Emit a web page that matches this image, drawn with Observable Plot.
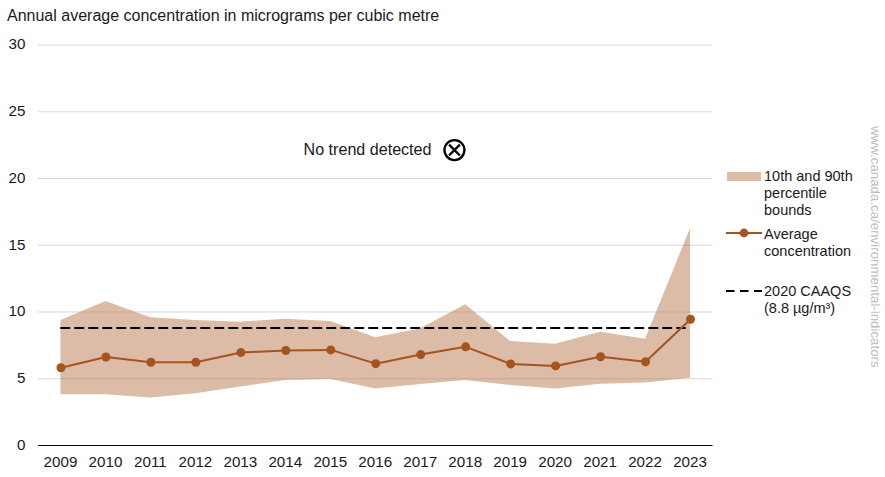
<!DOCTYPE html>
<html><head><meta charset="utf-8">
<script src="https://cdn.jsdelivr.net/npm/d3@7"></script>
<script src="https://cdn.jsdelivr.net/npm/@observablehq/plot@0.6"></script>
<style>
html,body{margin:0;padding:0;background:#fff;overflow:hidden}
body{width:885px;height:477px;position:relative;font-family:"Liberation Sans",Arial,sans-serif;color:#1a1a1a}
#title{position:absolute;left:7px;top:6px;font-size:16px;line-height:20px;white-space:nowrap}
#chart{position:absolute;left:0;top:34px}
#chart svg{display:block}
.lg{position:absolute;font-size:14.5px;line-height:17px;white-space:nowrap}
.sw{position:absolute}
#side{position:absolute;left:867px;top:126px;writing-mode:vertical-rl;font-size:13.3px;color:#bdbdbd;white-space:nowrap;line-height:16px}
</style></head><body>
<div id="title">Annual average concentration in micrograms per cubic metre</div>
<div id="chart"></div>
<svg class="sw" style="left:727px;top:172px" width="34" height="9"><rect width="34" height="9" fill="#b57345" fill-opacity="0.48"/></svg>
<div class="lg" style="left:764px;top:168px">10th and 90th<br>percentile<br>bounds</div>
<svg class="sw" style="left:726px;top:227px" width="36" height="12"><line x1="0" x2="36" y1="6" y2="6" stroke="#a5531f" stroke-width="1.8"/><circle cx="18" cy="6" r="4.4" fill="#a5531f"/></svg>
<div class="lg" style="left:764px;top:226px">Average<br>concentration</div>
<svg class="sw" style="left:726px;top:288px" width="36" height="6"><line x1="0" x2="36" y1="3" y2="3" stroke="#000" stroke-width="1.8" stroke-dasharray="8.5 5.5"/></svg>
<div class="lg" style="left:764px;top:283px">2020 CAAQS<br>(8.8 µg/m³)</div>
<div id="side">www.canada.ca/environmental-indicators</div>
<script>
const years = [2009,2010,2011,2012,2013,2014,2015,2016,2017,2018,2019,2020,2021,2022,2023];
const upper = [9.36,10.79,9.56,9.36,9.24,9.46,9.29,8.07,8.74,10.54,7.79,7.59,8.49,7.96,16.23];
const lower = [3.80,3.80,3.55,3.87,4.39,4.87,4.94,4.24,4.57,4.87,4.49,4.24,4.59,4.69,5.04];
const average = [5.82,6.63,6.24,6.24,6.96,7.12,7.16,6.13,6.81,7.39,6.11,5.96,6.65,6.27,9.46];
const caaqs = 8.8;
const caaqsYears = [2009,2022.88];
const yTicks = [0,5,10,15,20,25,30];
const note = "No trend detected";
const noteY = 22.13;
const noteTextX = 2017.24;
const noteIconX = 2017.75;

const rows = years.map((year,i)=>({year,upper:upper[i],lower:lower[i],average:average[i]}));
const brown = "#a5531f";

const chart = Plot.plot({
  width:885, height:443,
  marginLeft:38, marginRight:172.5, marginTop:10.5, marginBottom:32,
  style:{fontFamily:'"Liberation Sans",Arial,sans-serif',background:"transparent",overflow:"visible"},
  x:{domain:[2008.5,2023.5],label:null,ticks:years,tickFormat:d=>String(d),tickSize:0,tickPadding:10},
  y:{domain:[0,30],label:null,ticks:yTicks,tickSize:0,tickPadding:12},
  marks:[
    Plot.ruleY(yTicks.filter(d=>d>0),{stroke:"#d9d9d9",strokeWidth:1.2}),
    Plot.areaY(rows,{x:"year",y1:"lower",y2:"upper",fill:"#b57345",fillOpacity:0.48}),
    Plot.line(caaqsYears.map(x=>({x,y:caaqs})),{x:"x",y:"y",stroke:"#000",strokeWidth:1.8,strokeDasharray:"8.5 5.5"}),
    Plot.line(rows,{x:"year",y:"average",stroke:brown,strokeWidth:2}),
    Plot.dot(rows,{x:"year",y:"average",fill:brown,r:4.5}),
    Plot.ruleY([0],{stroke:"#000",strokeWidth:1.2}),
    Plot.axisX({ticks:years,tickFormat:d=>String(d),tickSize:0,tickPadding:11,fontSize:15.2,fill:"#1a1a1a",label:null,dx:-0.5}),
    Plot.axisY({ticks:yTicks,tickSize:0,tickPadding:13,fontSize:15.2,fill:"#1a1a1a",label:null,dy:-0.5}),
    Plot.text([note],{x:noteTextX,y:noteY,text:d=>d,textAnchor:"end",fontSize:16.1,fill:"#1a1a1a"}),
    Plot.dot([noteIconX],{x:d=>d,y:noteY,r:10,stroke:"#000",strokeWidth:2.3,fill:"#fff"}),
    Plot.dot([noteIconX],{x:d=>d,y:noteY,r:5,symbol:"times",stroke:"#000",strokeWidth:2.3})
  ]
});
document.getElementById("chart").appendChild(chart);
</script>
</body></html>
